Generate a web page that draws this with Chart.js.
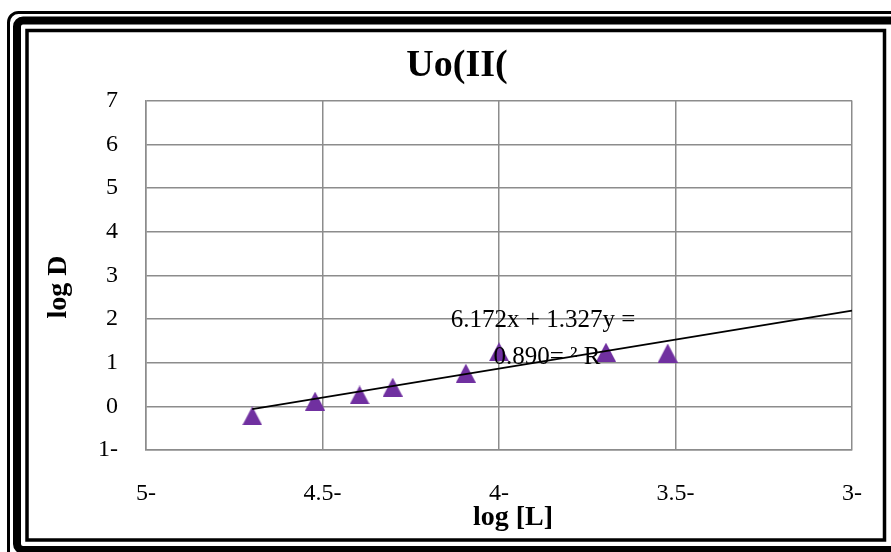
<!DOCTYPE html>
<html>
<head>
<meta charset="utf-8">
<script src="https://cdn.jsdelivr.net/npm/chart.js@4.4.1/dist/chart.umd.min.js"></script>
<style>
  html, body { margin: 0; padding: 0; background: #fff; }
  #wrap { width: 891px; height: 552px; }
</style>
</head>
<body>
<div id="wrap"><canvas id="chart"></canvas></div>
<script>
const logL = [-4.699, -4.521, -4.395, -4.301, -4.094, -4.0, -3.697, -3.522];
const logD = [-0.22, 0.12, 0.26, 0.44, 0.76, 1.25, 1.24, 1.22];
const xTicks = [-5, -4.5, -4, -3.5, -3];
const yTicks = [-1, 0, 1, 2, 3, 4, 5, 6, 7];
const slope = 1.327;
const intercept = 6.172;
const trendX = [logL[0], -3];
const eqLines = ['6.172x + 1.327y =', '0.890= \u00B2 R'];

const SERIF = '"Liberation Serif", "Times New Roman", serif';
const PURPLE = '#7030A0';
const GRID = '#8c8c8c';

// triangle marker centred in its own box, like the source
function triangleMarker(w, h, color) {
  const c = document.createElement('canvas');
  c.width = w; c.height = h;
  const g = c.getContext('2d');
  g.fillStyle = color;
  g.beginPath();
  g.moveTo(w / 2, 0);
  g.lineTo(w, h);
  g.lineTo(0, h);
  g.closePath();
  g.fill();
  return c;
}

const tickLabel = v => (v < 0 ? Math.abs(v) + '-' : String(v));

const framePlugin = {
  id: 'frame',
  beforeDraw(chart) {
    const ctx = chart.ctx;
    ctx.save();
    ctx.fillStyle = '#fff';
    ctx.fillRect(0, 0, chart.width, chart.height);
    ctx.strokeStyle = '#000';
    ctx.lineWidth = 3;
    ctx.beginPath();
    ctx.roundRect(8.5, 12.5, 905, 560, 10);
    ctx.stroke();
    ctx.lineWidth = 8;
    ctx.beginPath();
    ctx.roundRect(17, 20.5, 880, 529.5, 6);
    ctx.stroke();
    ctx.lineWidth = 3.5;
    ctx.strokeRect(27, 30.5, 857.5, 509.5);
    ctx.restore();
  },
  afterDraw(chart) {
    const ctx = chart.ctx;
    ctx.save();
    ctx.fillStyle = '#000';
    // axis titles
    ctx.font = 'bold 28px ' + SERIF;
    ctx.textAlign = 'center';
    ctx.textBaseline = 'alphabetic';
    ctx.fillText('log [L]', 513, 525);
    ctx.save();
    ctx.translate(66, 287);
    ctx.rotate(-Math.PI / 2);
    ctx.fillText('log D', 0, 0);
    ctx.restore();
    // trendline equation
    ctx.font = '25px ' + SERIF;
    ctx.textBaseline = 'middle';
    ctx.fillText(eqLines[0], 543, 320);
    ctx.fillText(eqLines[1], 547, 357);
    ctx.restore();
  }
};

new Chart(document.getElementById('chart'), {
  type: 'scatter',
  data: {
    datasets: [
      {
        label: 'trend',
        type: 'line',
        data: trendX.map(x => ({ x, y: slope * x + intercept })),
        borderColor: '#000',
        borderWidth: 1.75,
        pointRadius: 0,
        fill: false
      },
      {
        label: 'Uo(II(',
        data: logL.map((x, i) => ({ x, y: logD[i] })),
        pointStyle: triangleMarker(20, 19, PURPLE),
        pointRadius: 10
      }
    ]
  },
  options: {
    responsive: true,
    maintainAspectRatio: false,
    animation: false,
    layout: { padding: { left: 54, right: 31, top: 0, bottom: 0 } },
    plugins: {
      legend: { display: false },
      tooltip: { enabled: false },
      title: {
        display: true,
        text: 'Uo(II(',
        color: '#000',
        font: { family: SERIF, size: 38, weight: 'bold' },
        padding: { top: 43, bottom: 12 }
      }
    },
    scales: {
      x: {
        type: 'linear',
        min: -5,
        max: -3,
        afterBuildTicks(s) { s.ticks = xTicks.map(v => ({ value: v })); },
        afterFit(s) { s.height = 102; },
        ticks: {
          color: '#000',
          font: { family: SERIF, size: 24 },
          padding: 29,
          maxRotation: 0,
          callback: tickLabel
        },
        grid: { color: GRID, lineWidth: 1.5, drawTicks: false },
        border: { color: GRID, width: 1.5 }
      },
      y: {
        min: -1,
        max: 7,
        afterBuildTicks(s) { s.ticks = yTicks.map(v => ({ value: v })); },
        afterFit(s) { s.width = 92; },
        ticks: {
          color: '#000',
          font: { family: SERIF, size: 24 },
          padding: 28,
          callback: tickLabel
        },
        grid: { color: GRID, lineWidth: 1.5, drawTicks: false },
        border: { color: GRID, width: 1.5 }
      }
    }
  },
  plugins: [framePlugin]
});
</script>
</body>
</html>
